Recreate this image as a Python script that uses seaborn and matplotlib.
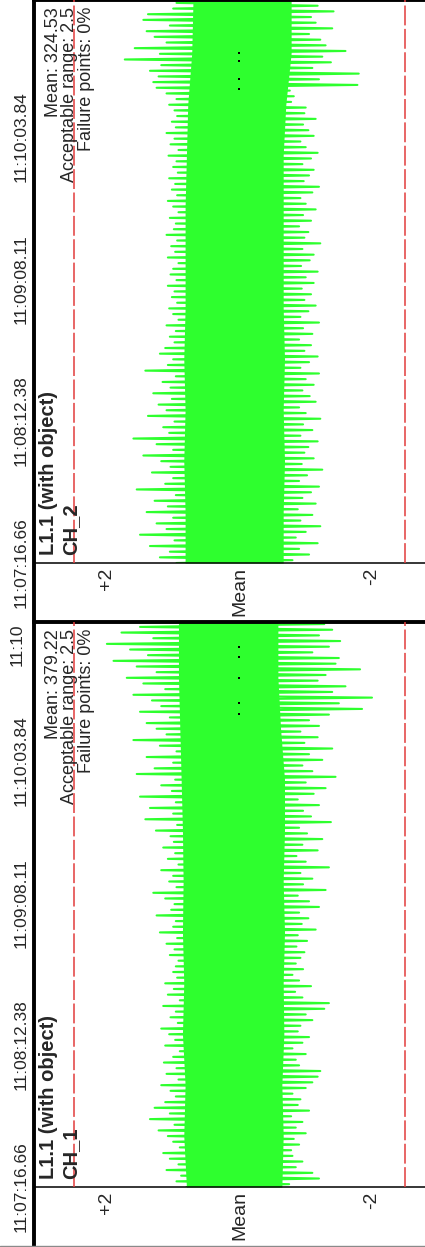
import numpy as np
import pandas as pd
import matplotlib
matplotlib.use("Agg")
import matplotlib.pyplot as plt
from matplotlib.lines import Line2D
import seaborn as sns

# Час (секунди від 11:07:16.66) та підписи осі часу
tick_secs = [0.0, 55.72, 111.45, 167.18]
tick_labels = ["11:07:16.66", "11:08:12.38", "11:09:08.11", "11:10:03.84"]
cut_label = "11:10"  # видима частина наступного підпису (11:10:59.57)

sample_period = 1.11  # s між відліками

channels = ["CH_1", "CH_2"]
means = [379.22, 324.53]
failure_pct = [0, 0]
acceptable = 2.5

# відхилення від середнього (x0.01): максимуми та мінімуми по черзі
ch1_hi = [80, 95, 88, 110, 92, 105, 115, 90, 100, 108,
          122, 98, 135, 105, 128, 112, 96, 104, 118, 92,
          110, 95, 114, 100, 90, 112, 97, 106, 118, 93,
          104, 96, 115, 90, 108, 99, 112, 94, 100, 96,
          92, 105, 98, 110, 94, 120, 100, 96, 125, 103,
          98, 112, 130, 95, 106, 100, 118, 92, 108, 97,
          115, 99, 104, 126, 94, 142, 100, 135, 96, 150,
          102, 118, 97, 155, 128, 100, 140, 95, 120, 160,
          110, 125, 140, 105, 150, 118, 132, 160, 112, 145,
          170, 125, 155, 190, 138, 165, 200, 130, 178, 150]
ch1_lo = [-75, -120, -110, -85, -95, -80, -78, -90, -82, -100,
          -85, -95, -78, -105, -88, -92, -80, -100, -110, -118,
          -122, -90, -85, -100, -80, -95, -105, -88, -92, -110,
          -100, -128, -135, -95, -84, -108, -90, -80, -96, -85,
          -92, -98, -86, -102, -88, -115, -94, -104, -90, -120,
          -105, -88, -130, -96, -110, -92, -135, -100, -86, -118,
          -95, -125, -102, -90, -138, -108, -96, -120, -88, -112,
          -130, -100, -145, -110, -95, -125, -105, -140, -98, -118,
          -92, -120, -105, -135, -185, -150, -200, -140, -160, -118,
          -130, -182, -145, -150, -110, -135, -152, -120, -140, -128]
ch2_hi = [95, 120, 105, 135, 98, 150, 110, 125, 100, 140,
          108, 128, 96, 155, 112, 100, 132, 104, 118, 145,
          100, 125, 160, 106, 115, 98, 138, 110, 122, 102,
          130, 104, 116, 96, 142, 108, 100, 120, 112, 98,
          105, 96, 110, 92, 100, 106, 94, 102, 98, 108,
          95, 104, 100, 92, 108, 97, 103, 94, 110, 99,
          96, 105, 92, 100, 108, 94, 102, 97, 106, 93,
          100, 95, 107, 92, 104, 98, 110, 96, 102, 94,
          98, 106, 95, 110, 125, 130, 122, 135, 118, 173,
          120, 158, 110, 128, 140, 105, 145, 138, 100, 95]
ch2_lo = [-80, -105, -90, -118, -85, -100, -122, -92, -110, -88,
          -115, -95, -108, -120, -90, -102, -125, -94, -112, -98,
          -104, -118, -92, -110, -96, -122, -100, -90, -115, -106,
          -95, -112, -100, -120, -92, -105, -118, -98, -108, -90,
          -110, -96, -120, -92, -104, -115, -98, -108, -94, -112,
          -100, -118, -93, -106, -112, -95, -122, -98, -104, -90,
          -108, -96, -115, -100, -92, -110, -120, -97, -105, -112,
          -95, -108, -118, -100, -92, -112, -104, -96, -115, -98,
          -100, -78, -82, -76, -178, -120, -180, -110, -138, -125,
          -160, -130, -122, -105, -140, -115, -108, -142, -118, -92]

# суцільна середина смуги (x0.01) у вузлах часу
core_secs = [0, 20, 40, 60, 80, 100, 120, 140, 160, 180, 200, 222]
ch1_core_hi = [80, 84, 82, 86, 84, 86, 85, 86, 88, 90, 92, 92]
ch1_core_lo = [-64, -66, -64, -67, -66, -68, -66, -68, -68, -62, -58, -58]
ch2_core_hi = [82, 82, 84, 82, 84, 82, 82, 82, 80, 78, 72, 70]
ch2_core_lo = [-66, -66, -68, -66, -68, -66, -66, -66, -66, -70, -78, -78]

# чорні точки на лінії середнього (секунди)
ch1_marks = [185.6, 189.9, 199.7, 208.0, 211.9]
ch2_marks = [186.0, 189.9, 197.0, 200.1]

W, H = 425, 1247
left_px = 34
px_per_sec = 142 / 55.72
green = "#2eff2e"
red = "#e23c3c"

sns.set_style("white")
plt.rcParams['font.family'] = ['Liberation Sans', 'DejaVu Sans']

fig = plt.figure(figsize=(W / 100, H / 100), dpi=100)

panels = [
    # канал, hi, lo, середина hi/lo, точки, середнє, відмови, y осі (px), верх (px), обрізаний підпис
    (channels[1], ch2_hi, ch2_lo, ch2_core_hi, ch2_core_lo, ch2_marks, means[1], failure_pct[1], 563, 0, False),
    (channels[0], ch1_hi, ch1_lo, ch1_core_hi, ch1_core_lo, ch1_marks, means[0], failure_pct[0], 1187, 622, True),
]

for name, hi, lo, c_hi, c_lo, marks, mean, fail, axis_y, top_y, show_cut in panels:
    h_px = axis_y - top_y
    ax = fig.add_axes([left_px / W, (H - axis_y) / H, (W - left_px) / W, h_px / H])

    vals = np.column_stack([hi, lo]).ravel() / 100
    df = pd.DataFrame({"sec": np.arange(len(vals)) * sample_period, "dev": vals})
    ax.fill_betweenx(core_secs, np.array(c_lo) / 100, np.array(c_hi) / 100,
                     color=green, lw=0, zorder=1)
    sns.lineplot(data=df, x="dev", y="sec", orient="y", sort=False, estimator=None,
                 color=green, lw=1.5, ax=ax, legend=False, zorder=2)
    sns.scatterplot(x=np.zeros(len(marks)), y=marks, marker="s", s=3, color="black",
                    linewidth=0, ax=ax, zorder=3, legend=False)

    for v in (acceptable, -acceptable):
        ax.axvline(v, color=red, lw=1.1, ls=(0, (13, 2.3)), zorder=4)

    ax.set_xlim(3.10, -2.80)
    ax.set_ylim(0, h_px / px_per_sec)
    ax.set_xlabel("")
    ax.set_ylabel("")

    ax.set_yticks(tick_secs, tick_labels)
    ax.tick_params(axis="y", length=0, pad=4, labelsize=12.5, labelrotation=90)
    for lab in ax.get_yticklabels():
        lab.set_va("center")
    ax.set_xticks([2, 0, -2], ["+2", "Mean", "-2"])
    ax.tick_params(axis="x", direction="in", length=6, width=1.6, pad=3,
                   labelsize=14, labelrotation=90)

    ax.spines["top"].set_linewidth(2.8)
    ax.spines["bottom"].set_linewidth(1.1)
    ax.spines["left"].set_visible(False)
    ax.spines["right"].set_visible(False)
    for s in ("top", "bottom"):
        ax.spines[s].set_color("black")

    fx = lambda px: (px - left_px) / (W - left_px)
    ax.text(fx(49), 8 / h_px, "L1.1 (with object)", rotation=90, ha="center", va="bottom",
            fontsize=14.5, fontweight="bold", transform=ax.transAxes, zorder=5)
    ax.text(fx(71), 8 / h_px, name, rotation=90, ha="center", va="bottom",
            fontsize=14.5, fontweight="bold", transform=ax.transAxes, zorder=5)
    ax.text(fx(70), 1 - 7 / h_px,
            f"Mean: {mean:.2f}\nAcceptable range: {acceptable}\nFailure points: {fail}%",
            rotation=90, ha="center", va="top", multialignment="right",
            fontsize=13, linespacing=0.98, transform=ax.transAxes, zorder=5)

    if show_cut:
        fig.text(17 / W, (H - top_y - 1) / H, cut_label, rotation=90,
                 ha="center", va="top", fontsize=12.5)

# товста вертикальна лінія та рамка знизу
fig.add_artist(Line2D([left_px / W] * 2, [0, 1], transform=fig.transFigure,
                      color="black", lw=2.8))
fig.add_artist(Line2D([0, 1], [1.5 / H] * 2, transform=fig.transFigure,
                      color="#8a8a8a", lw=1.0))

fig.savefig("out.png", dpi=100)
